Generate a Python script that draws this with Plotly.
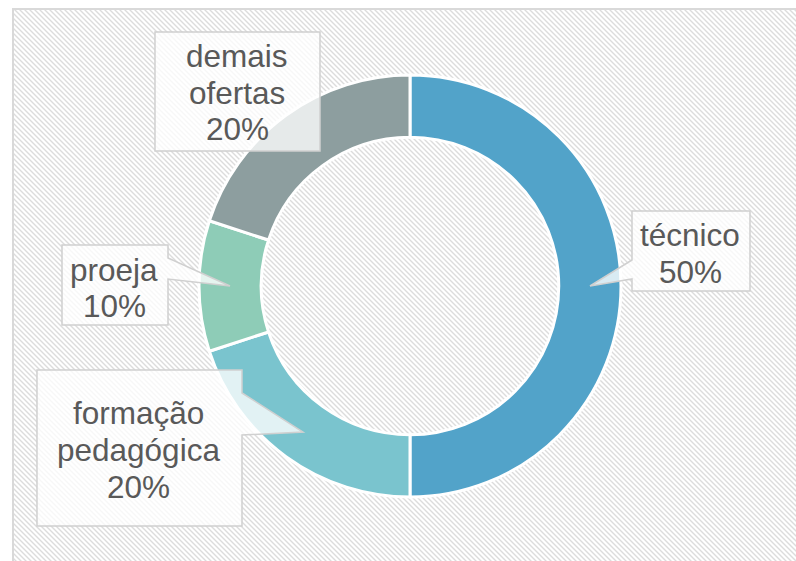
import base64
import plotly.graph_objects as go

# ---- data ----
categories = ["técnico", "formação pedagógica", "proeja", "demais ofertas"]
values = [50, 20, 10, 20]
slice_colors = ["#52A3C9", "#7AC4CE", "#8ECCB7", "#8D9E9F"]

W, H = 796, 561

def px(x):
    return x / W

def py(y):
    return 1 - y / H

# ---- background hatch (decorative) ----
svg = (
    f'<svg xmlns="http://www.w3.org/2000/svg" width="{W}" height="{H}">'
    '<defs><pattern id="p" width="5" height="5" patternUnits="userSpaceOnUse">'
    '<path d="M-1,4 l2,2 M0,0 l5,5 M4,-1 l2,2" stroke="#dcdcdc" stroke-width="1.4"/>'
    '</pattern></defs>'
    f'<rect x="13" y="9" width="{W}" height="{H}" fill="url(#p)"/>'
    f'<path d="M13,{H + 20} L13,9 L{W + 20},9" fill="none" stroke="#d9d9d9" stroke-width="2"/>'
    '</svg>'
)
bg_src = "data:image/svg+xml;base64," + base64.b64encode(svg.encode()).decode()

fig = go.Figure()
fig.add_trace(go.Pie(
    labels=categories,
    values=values,
    hole=0.705,
    sort=False,
    direction="clockwise",
    rotation=0,
    textinfo="none",
    hoverinfo="label+percent",
    marker=dict(colors=slice_colors, line=dict(color="white", width=3)),
    domain=dict(x=[px(199), px(621)], y=[py(497), py(75)]),
    showlegend=False,
))

# ---- callouts (layout) ----
callouts = {
    "demais ofertas": dict(
        path=[(155, 32), (320, 32), (320, 151), (155, 151)],
        cx=237, baselines=[67, 104, 140]),
    "técnico": dict(
        path=[(632, 211), (750, 211), (750, 291), (632, 291), (632, 279), (590, 286), (632, 260)],
        cx=690, baselines=[246, 283]),
    "proeja": dict(
        path=[(62, 245), (168, 245), (168, 258), (230, 286), (168, 279), (168, 325), (62, 325)],
        cx=114, baselines=[281, 317]),
    "formação pedagógica": dict(
        path=[(37, 370), (242, 370), (242, 393), (303, 432), (242, 435), (242, 526), (37, 526)],
        cx=138, baselines=[424, 461, 498]),
}

FS = 31.5
shapes = []
annotations = []
for cat, val in zip(categories, values):
    c = callouts[cat]
    d = "M " + " L ".join(f"{px(x):.5f},{py(y):.5f}" for x, y in c["path"]) + " Z"
    shapes.append(dict(type="path", path=d, xref="paper", yref="paper",
                       fillcolor="rgba(255,255,255,0.78)",
                       line=dict(color="#d0d0d0", width=1.5), layer="above"))
    lines = cat.split(" ") + [f"{val}%"]
    for txt, base in zip(lines, c["baselines"]):
        annotations.append(dict(
            text=txt, xref="paper", yref="paper",
            x=px(c["cx"]), y=py(base - 0.347 * FS),
            xanchor="center", yanchor="middle", showarrow=False,
            font=dict(family="Liberation Sans, Arial, sans-serif", size=FS, color="#595959")))

fig.update_layout(
    width=W, height=H,
    margin=dict(l=0, r=0, t=0, b=0),
    paper_bgcolor="white",
    plot_bgcolor="white",
    shapes=shapes,
    annotations=annotations,
    images=[dict(source=bg_src, xref="paper", yref="paper", x=0, y=1,
                 sizex=1, sizey=1, xanchor="left", yanchor="top",
                 sizing="stretch", layer="below")],
)

fig.write_html(
    "out.html",
    config={"displayModeBar": False},
    post_script="document.body.style.margin='0';document.body.style.overflow='hidden';",
)
